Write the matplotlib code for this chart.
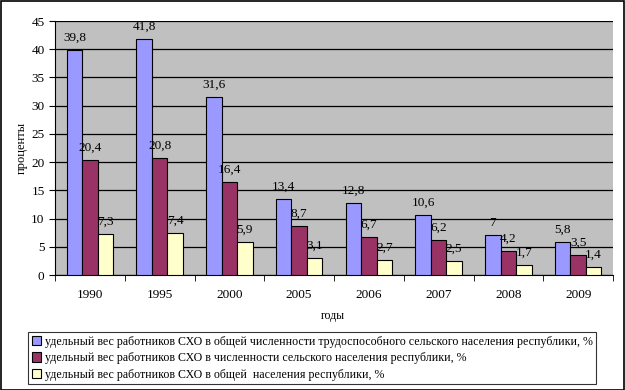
import matplotlib
matplotlib.use("Agg")
import matplotlib.pyplot as plt
import numpy as np

years = ["1990", "1995", "2000", "2005", "2006", "2007", "2008", "2009"]
s1 = [39.8, 41.8, 31.6, 13.4, 12.8, 10.6, 7, 5.8]
s2 = [20.4, 20.8, 16.4, 8.7, 6.7, 6.2, 4.2, 3.5]
s3 = [7.3, 7.4, 5.9, 3.1, 2.7, 2.5, 1.7, 1.4]
names = [
    "удельный вес работников СХО в общей численности трудоспособного сельского населения республики, %",
    "удельный вес работников СХО в численности сельского населения республики, %",
    "удельный вес работников СХО в общей  населения республики, %",
]
colors = ["#9999FF", "#993366", "#FFFFCC"]

plt.rcParams['font.family'] = ['Liberation Serif', 'DejaVu Serif']

fig = plt.figure(figsize=(6.25, 3.9), dpi=100)
W, H = 625, 390
ax = fig.add_axes([55 / W, 1 - 275 / H, (613 - 55) / W, (275 - 21) / H])
ax.set_facecolor("#C0C0C0")

x = np.arange(len(years))
bw = 0.222
for i, (s, c) in enumerate(zip([s1, s2, s3], colors)):
    pos = x + (i - 1) * bw
    ax.bar(pos, s, bw, color=c, edgecolor="black", linewidth=0.8, zorder=3, label=names[i])
    for px, v in zip(pos, s):
        lab = ("%g" % v).replace(".", ",")
        ax.text(px, v + 1.1, lab, ha="center", va="bottom", fontsize=9.5, zorder=4)

ax.set_xlim(-0.5, len(years) - 0.5)
ax.set_ylim(0, 45)
ax.set_yticks(np.arange(0, 46, 5))
ax.yaxis.grid(True, color="black", linewidth=0.9, zorder=0)
ax.set_axisbelow(True)
ax.set_xticks(x)
ax.set_xticklabels(years, fontsize=9.5)
ax.set_xticks(np.arange(-0.5, len(years), 1), minor=True)
ax.tick_params(axis="x", which="major", length=0, pad=10)
ax.tick_params(axis="x", which="minor", length=4, direction="out")
ax.tick_params(axis="y", labelsize=9.5, length=4, direction="out")
for sp in ["top", "right"]:
    ax.spines[sp].set_visible(False)
ax.spines["left"].set_color("black")
ax.spines["bottom"].set_color("black")

fig.text(22 / W, 1 - 148 / H, "проценты", rotation=90, ha="center", va="center", fontsize=9)
fig.text(333 / W, 1 - 316 / H, "годы", ha="center", va="center", fontsize=8.5)

leg = fig.legend(loc="upper left", bbox_to_anchor=(28 / W, 1 - 332 / H), fontsize=8.6,
                 frameon=True, fancybox=False, edgecolor="black", handlelength=0.8,
                 handleheight=0.8, handletextpad=0.3, borderpad=0.3, labelspacing=0.38,
                 borderaxespad=0)
leg.get_frame().set_linewidth(0.8)

fig.patches.append(plt.Rectangle((0.001, 0.001), 0.997, 0.996, transform=fig.transFigure,
                                 fill=False, edgecolor="black", linewidth=1.2))
fig.savefig("out.png", dpi=100)
